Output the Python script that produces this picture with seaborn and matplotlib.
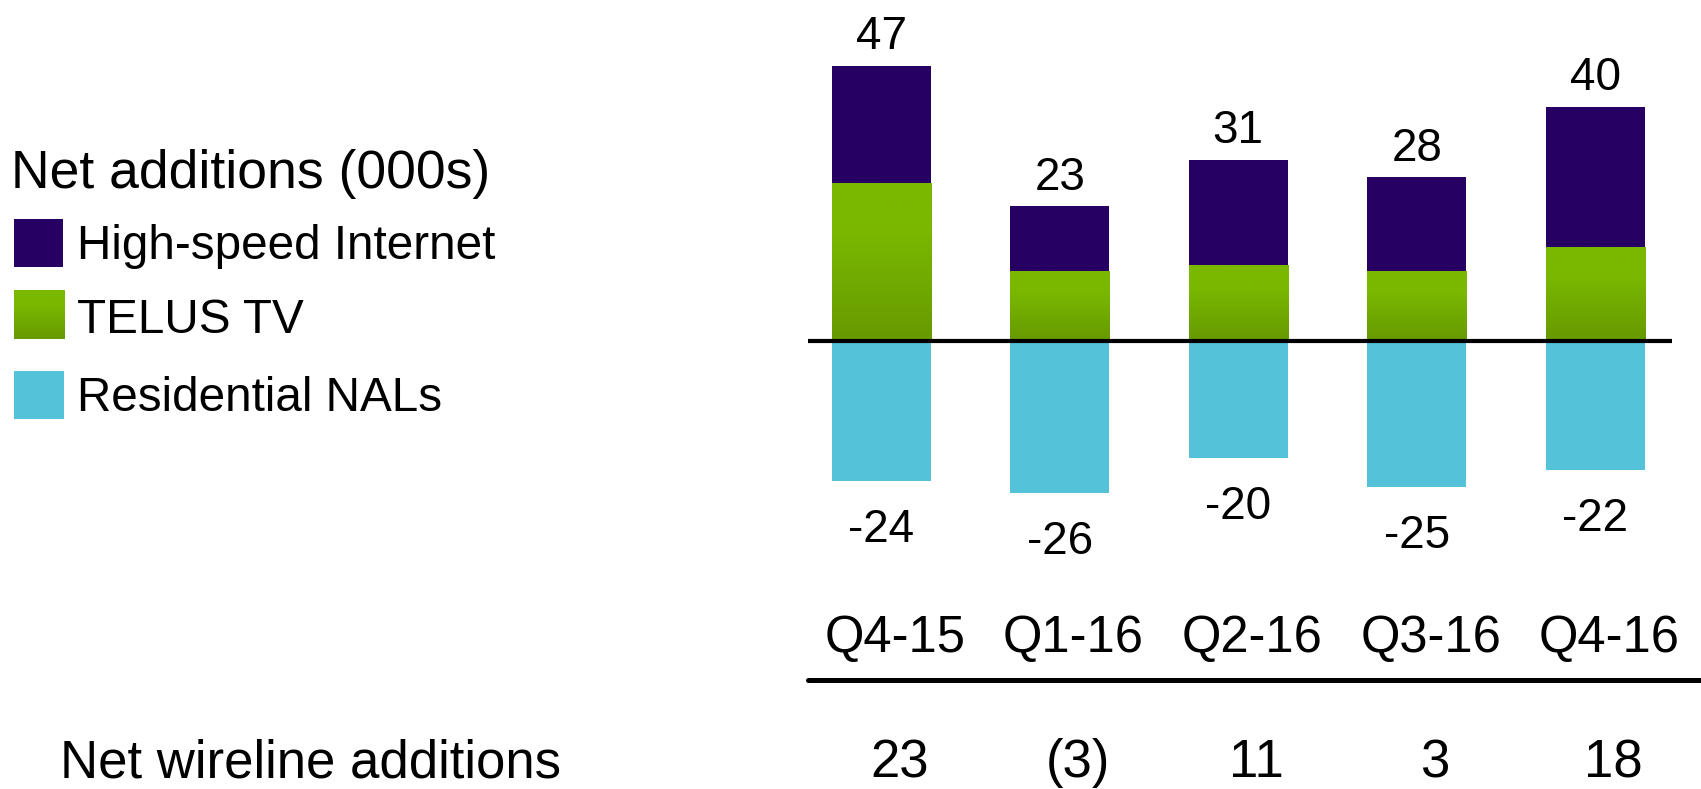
import numpy as np
import pandas as pd
import matplotlib
matplotlib.use("Agg")
import matplotlib.pyplot as plt
from matplotlib.patches import Rectangle
from matplotlib.lines import Line2D
from matplotlib.transforms import blended_transform_factory
from matplotlib.colors import to_rgb
import seaborn as sns

# ---- data (thousands of net additions) ----
quarters = ["Q4-15", "Q1-16", "Q2-16", "Q3-16", "Q4-16"]
high_speed_internet = [20, 11, 18, 16, 24]
telus_tv = [27, 12, 13, 12, 16]
residential_nals = [-24, -26, -20, -25, -22]

legend_title = "Net additions (000s)"
series_labels = ["High-speed Internet", "TELUS TV", "Residential NALs"]
footer_label = "Net wireline additions"

# ---- colours ----
PURPLE = "#260063"
GREEN_TOP = "#7AB800"
GREEN_BOTTOM = "#669A00"
CYAN = "#54C3D9"

sns.set_style("white")
plt.rcParams["font.family"] = ["Liberation Sans", "DejaVu Sans"]
plt.rcParams["text.color"] = "black"

W, H = 1701, 789
fig = plt.figure(figsize=(W / 100, H / 100), dpi=100)


def fx(px):
    return px / W


def fy(py):
    return 1 - py / H


ax = fig.add_axes([fx(808), fy(600), fx(1672) - fx(808), 600 / H])

df = pd.DataFrame({
    "quarter": quarters,
    "hsi": high_speed_internet,
    "tv": telus_tv,
    "nals": residential_nals,
})
df["positive"] = df["hsi"] + df["tv"]
df["net"] = df["positive"] + df["nals"]

bar_w = 0.555
common = dict(x="quarter", saturation=1, width=bar_w, linewidth=0,
              errorbar=None, ax=ax)

# stacked positive bars: full height in purple, TV portion on top of it
sns.barplot(data=df, y="positive", color=PURPLE, **common)
top_patches = list(ax.patches)
sns.barplot(data=df, y="tv", color=GREEN_TOP, **common)
tv_patches = list(ax.patches[len(top_patches):])
n_pos = len(ax.patches)
sns.barplot(data=df, y="nals", color=CYAN, **common)
nal_patches = list(ax.patches[n_pos:])

# vertical gradient on the TV segments
rows = 64
t = np.linspace(0, 1, rows)
w = np.clip((t - 0.3) / 0.7, 0, 1)
c0, c1 = np.array(to_rgb(GREEN_TOP)), np.array(to_rgb(GREEN_BOTTOM))
grad = (c0[None, :] * (1 - w[:, None]) + c1[None, :] * w[:, None])[:, None, :]
for p in tv_patches:
    x0, y0 = p.get_x(), p.get_y()
    im = ax.imshow(grad, extent=[x0, x0 + p.get_width(), y0, y0 + p.get_height()],
                   aspect="auto", origin="upper", interpolation="bilinear",
                   zorder=p.get_zorder() + 0.1)
    im.set_clip_path(p)

ax.set_xlim(-0.41, 4.43)
ax.set_ylim(-44.3, 58.3)
ax.axis("off")
ax.axhline(0, color="black", lw=3, zorder=5)

# value labels
for p, v in zip(top_patches, df["positive"]):
    ax.annotate(f"{v}", (p.get_x() + p.get_width() / 2, p.get_y() + p.get_height()),
                xytext=(0, 12), textcoords="offset points",
                ha="center", va="baseline", fontsize=33, color="black")
for p, v in zip(nal_patches, df["nals"]):
    ax.annotate(f"{v}", (p.get_x() + p.get_width() / 2, p.get_y() + p.get_height()),
                xytext=(0, -44), textcoords="offset points",
                ha="center", va="baseline", fontsize=33, color="black")

# category labels and net totals below the chart
blend = blended_transform_factory(ax.transData, fig.transFigure)
for p, q, n in zip(top_patches, df["quarter"], df["net"]):
    cx = p.get_x() + p.get_width() / 2
    ax.annotate(q, (cx, fy(652)), xycoords=blend, xytext=(10, 0),
                textcoords="offset points", ha="center", va="baseline",
                fontsize=36.5, color="black")
    txt = f"({abs(n)})" if n < 0 else f"{n}"
    ax.annotate(txt, (cx, fy(777)), xycoords=blend, xytext=(13, 0),
                textcoords="offset points", ha="center", va="baseline",
                fontsize=38, color="black")

fig.text(fx(60), fy(777), footer_label, ha="left", va="baseline", fontsize=38,
         color="black")
fig.add_artist(Line2D([fx(808), 1.0], [fy(680), fy(680)], color="black",
                      lw=3.6, transform=fig.transFigure))

# legend block
fig.text(fx(11), fy(188), legend_title, ha="left", va="baseline", fontsize=38.5,
         color="black")
fig.add_artist(Rectangle((fx(14), fy(267)), fx(49), 48 / H, color=PURPLE,
                         transform=fig.transFigure, lw=0))
gax = fig.add_axes([fx(14), fy(339), fx(50), 49 / H])
gax.imshow(grad, aspect="auto", interpolation="bilinear")
gax.axis("off")
fig.add_artist(Rectangle((fx(14), fy(419)), fx(50), 48 / H, color=CYAN,
                         transform=fig.transFigure, lw=0))
for label, base in zip(series_labels, [259, 333, 411]):
    fig.text(fx(77), fy(base), label, ha="left", va="baseline", fontsize=34.3,
             color="black")

fig.savefig("out.png", dpi=100, facecolor="white")
